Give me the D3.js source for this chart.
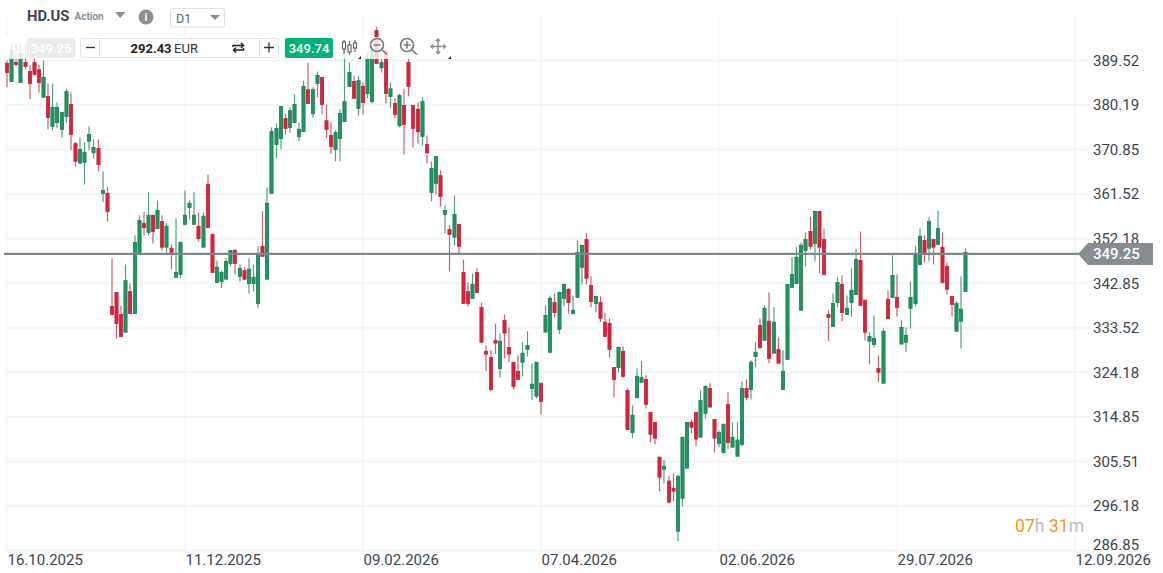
<!DOCTYPE html>
<html><head><meta charset="utf-8">
<script src="https://cdnjs.cloudflare.com/ajax/libs/d3/7.8.5/d3.min.js"></script>
<style>html,body{margin:0;padding:0;background:#fff;overflow:hidden}svg{display:block;font-family:Roboto,sans-serif}</style>
</head><body><svg id="c" width="1163" height="573"></svg>
<script>
const opens=[388.9,385.1,389.1,384.9,389.1,387.2,389.1,387.6,381.8,382.0,
375.7,376.5,375.1,377.8,380.3,372.1,368.0,368.2,372.6,370.2,
371.1,361.7,361.7,338.0,340.9,336.3,332.6,341.1,336.5,349.1,
355.4,353.5,357.1,354.3,355.8,350.4,350.2,344.1,344.7,355.2,
358.7,355.2,354.8,350.4,363.6,353.1,343.0,343.2,343.7,347.0,
349.7,344.3,345.5,342.8,342.8,338.6,350.6,343.7,361.7,371.9,
373.2,377.4,375.5,376.5,373.6,374.6,383.4,378.4,384.7,386.0,
376.9,373.8,370.9,373.2,376.7,384.1,385.1,379.5,384.1,382.6,
380.9,395.8,388.0,391.6,382.0,380.5,375.9,380.1,389.1,380.1,
379.3,373.6,371.9,361.9,363.8,365.4,357.3,354.1,352.5,355.2,
345.1,341.1,339.7,345.1,337.8,328.6,327.3,330.9,325.0,335.1,
329.4,326.3,324.4,326.3,329.0,320.8,319.2,321.9,332.6,328.4,
338.8,333.2,339.7,341.6,336.5,339.9,346.2,352.0,342.4,338.6,
338.8,334.7,334.4,325.2,325.2,328.6,320.4,311.6,318.9,322.1,
322.7,315.8,313.7,306.4,303.9,301.4,299.9,290.9,297.8,304.1,
313.7,315.8,310.6,315.6,320.8,314.3,309.3,307.4,317.5,308.5,
306.6,309.1,320.8,320.6,327.5,334.0,330.9,334.9,328.2,329.0,
320.6,326.9,342.0,342.8,337.2,349.7,353.7,351.2,357.9,352.0,
336.3,333.8,338.8,342.6,336.3,338.8,340.5,347.6,339.3,330.7,
330.0,325.0,321.9,339.5,339.9,339.9,330.1,330.5,337.6,338.6,
346.8,351.8,350.2,352.0,351.0,350.4,346.4,340.1,332.8,334.9,
341.1];
const highs=[389.5,393.1,393.1,393.1,393.1,388.5,392.7,388.5,389.5,384.7,
384.7,380.7,378.6,383.6,382.8,372.4,373.4,372.4,375.7,373.0,
373.0,366.3,363.1,348.1,340.9,338.2,346.8,342.8,352.9,357.1,
357.7,361.9,357.1,360.2,357.1,355.4,351.0,356.4,351.6,362.3,
360.2,361.9,357.7,357.7,365.6,353.1,347.6,345.5,348.1,349.7,
350.1,346.8,346.2,348.1,346.8,350.6,357.9,362.9,375.5,376.3,
379.9,378.4,379.7,382.4,376.5,385.3,389.1,383.9,387.2,386.0,
380.3,376.7,374.9,379.3,393.7,389.1,386.4,386.2,384.9,391.2,
392.7,396.6,391.2,391.6,384.9,381.6,382.6,383.6,389.9,380.1,
380.7,381.8,373.8,368.4,369.4,366.5,359.2,355.0,361.2,355.2,
347.8,343.0,344.9,346.0,338.8,329.8,328.8,334.4,332.3,336.3,
333.6,326.3,327.7,330.5,332.8,326.1,326.3,321.9,338.2,340.3,
340.7,341.1,342.8,341.8,340.3,351.8,350.8,353.3,344.3,340.1,
340.1,336.7,335.5,325.2,329.6,329.6,320.8,317.3,325.0,326.5,
323.6,315.8,313.7,306.6,305.8,302.4,303.0,302.8,310.6,313.7,
314.3,315.8,320.4,321.5,321.9,314.3,312.0,313.5,320.0,313.7,
313.7,322.3,322.7,326.7,330.5,335.5,338.2,340.9,337.8,331.5,
328.8,342.6,348.3,350.4,351.4,353.5,356.8,357.9,357.9,354.3,
337.2,340.7,344.1,344.5,340.3,346.0,350.1,353.7,339.3,332.6,
336.1,327.7,333.4,341.4,348.7,344.7,335.1,333.6,343.2,350.6,
354.3,352.9,356.6,352.2,358.1,353.5,347.2,340.1,339.1,344.3,
350.1];
const lows=[383.9,385.1,388.3,384.9,387.8,381.4,386.4,382.8,381.8,375.1,
374.9,375.3,373.4,376.5,370.7,367.3,368.0,363.5,370.7,369.0,
366.3,359.8,355.8,336.1,331.3,331.7,332.6,336.5,336.5,349.1,
352.9,352.9,351.2,354.3,349.7,349.3,345.8,344.1,343.9,355.0,
356.2,355.2,351.6,350.4,354.5,345.1,343.0,341.8,343.7,346.4,
344.7,343.2,343.5,340.7,341.1,337.6,348.5,343.7,361.7,369.0,
370.9,374.0,374.4,376.5,372.6,374.6,380.5,377.6,381.8,378.2,
373.2,370.0,368.4,368.4,376.7,383.9,381.6,378.0,378.2,381.6,
380.5,388.9,387.0,380.5,379.5,377.4,375.5,369.8,382.0,371.3,
372.1,371.7,368.0,360.0,361.5,358.9,353.3,345.3,350.8,349.1,
338.6,338.0,339.7,340.9,330.3,324.4,320.2,328.0,323.1,327.1,
326.3,320.6,322.7,323.3,327.5,318.5,318.7,315.4,332.6,328.2,
335.7,332.2,338.0,336.5,336.5,339.9,342.6,342.6,337.8,336.7,
334.7,331.7,327.3,318.9,324.2,323.1,312.2,310.4,318.7,322.1,
316.6,309.5,309.1,299.3,300.9,296.7,297.2,288.8,296.1,304.1,
311.4,308.7,310.6,314.5,316.9,307.4,308.5,307.2,308.1,308.5,
306.6,308.7,318.3,318.5,325.2,329.0,330.9,326.1,328.2,326.1,
320.6,326.9,342.0,342.8,337.2,346.4,349.9,347.4,344.9,344.5,
330.7,333.8,337.8,334.9,336.3,335.9,340.5,338.0,330.9,325.9,
329.4,322.1,321.9,335.3,339.9,335.9,330.1,328.4,333.4,338.0,
346.8,347.2,347.4,346.8,350.8,342.8,340.5,335.9,332.8,329.2,
341.1];
const closes=[387.0,391.6,388.7,391.0,388.3,384.7,386.6,384.9,386.0,377.6,
379.7,379.7,378.6,383.0,374.0,368.4,370.9,370.3,374.0,371.3,
367.7,362.3,357.9,336.3,334.4,331.7,343.4,336.5,351.4,356.0,
354.5,357.1,353.7,358.1,350.4,354.8,349.3,345.1,351.4,357.1,
359.6,357.1,352.2,356.9,354.5,345.1,346.2,345.1,347.4,349.7,
347.0,346.0,343.7,345.8,344.1,349.1,348.5,359.6,374.6,375.3,
379.9,375.3,379.0,380.3,375.1,384.1,380.5,383.4,386.4,380.3,
375.1,371.5,374.4,378.4,380.9,387.0,381.6,385.3,380.7,389.9,
391.6,388.9,389.1,382.6,383.6,378.2,382.2,376.1,384.1,375.3,
374.6,380.9,370.2,366.9,369.4,361.0,358.1,353.1,357.3,350.6,
338.6,338.6,342.6,340.9,330.5,328.0,320.6,330.3,330.7,332.4,
328.0,321.2,322.7,328.2,329.8,321.7,326.3,318.1,336.1,339.7,
336.7,340.9,342.6,338.8,337.2,349.3,350.8,343.9,339.0,340.1,
335.5,331.7,329.0,322.7,329.4,323.3,312.2,315.2,323.3,323.1,
317.5,311.2,310.4,302.2,304.5,297.0,299.3,302.4,310.6,313.7,
312.7,310.2,318.3,321.2,316.9,310.4,311.6,313.3,309.5,310.6,
310.0,320.8,318.9,326.3,328.4,329.4,337.6,327.1,334.7,326.1,
324.4,342.6,344.7,348.3,350.8,352.0,350.6,357.9,350.4,344.7,
335.7,338.6,343.0,336.7,337.6,341.4,347.8,338.2,332.6,331.7,
331.3,324.2,332.8,335.5,344.5,337.8,333.6,331.9,339.9,348.7,
352.7,349.1,355.8,350.4,354.3,343.0,341.6,338.4,338.6,337.4,
349.3];
const priceTicks=[389.52,380.19,370.85,361.52,352.18,342.85,333.52,324.18,314.85,305.51,296.18,286.85];
const dateLabels=["16.10.2025","11.12.2025","09.02.2026","07.04.2026","02.06.2026","29.07.2026","12.09.2026"];
const dateIndex=[0,39,78,117,156,195,234];
const lastPrice=349.25, askPrice=349.74, tradeValue="292.43";

const svg=d3.select("#c");
const x=d3.scaleLinear().domain([0,234]).range([7,1075]);
const y=d3.scaleLinear().domain([389.52,296.18]).range([60.5,506]);
const GREEN="#20955f",GREEND="#1b7f56",RED="#dc2039",REDD="#c12a3e",TXT="#3a4550";

// grid
const grid=svg.append("g");
grid.selectAll("line.h").data(priceTicks).join("line").attr("class","h")
 .attr("x1",5).attr("x2",1090).attr("y1",d=>y(d)).attr("y2",d=>y(d))
 .attr("stroke","#f3f4f6").attr("stroke-width",2);
grid.selectAll("line.v").data(dateIndex).join("line").attr("class","v")
 .attr("x1",d=>x(d)).attr("x2",d=>x(d)).attr("y1",15).attr("y2",552)
 .attr("stroke","#f3f4f6").attr("stroke-width",1.5);

// candles
const idx=d3.range(opens.length);
const g=svg.append("g");
const isUp=i=>closes[i]>=opens[i];
const cx=i=>Math.round(x(i)*2)/2;
g.selectAll("line.w").data(idx).join("line").attr("class","w")
 .attr("x1",cx).attr("x2",cx).attr("y1",i=>y(highs[i])).attr("y2",i=>y(lows[i]))
 .attr("stroke",i=>isUp(i)?GREEND:REDD).attr("stroke-width",1.2).attr("stroke-opacity",.75);
g.selectAll("rect.b").data(idx).join("rect").attr("class","b")
 .attr("x",i=>cx(i)-1.6).attr("width",3.2)
 .attr("y",i=>y(Math.max(opens[i],closes[i])))
 .attr("height",i=>Math.max(1,Math.abs(y(opens[i])-y(closes[i]))))
 .attr("fill",i=>isUp(i)?GREEN:RED)
 .attr("stroke",i=>isUp(i)?GREEND:REDD).attr("stroke-width",.8);

// toolbar veil
svg.append("rect").attr("x",0).attr("y",37).attr("width",452).attr("height",22).attr("fill","#fff").attr("opacity",.82);

// price line + tag
const ly=y(lastPrice)+1.2;
svg.append("line").attr("x1",4).attr("x2",1080).attr("y1",ly).attr("y2",ly).attr("stroke","#7f898d").attr("stroke-width",2.4);

// axes
const yAxis=d3.axisRight(y).tickValues(priceTicks).tickFormat(d3.format(".2f")).tickSize(0).tickPadding(0);
const ya=svg.append("g").attr("transform","translate(1093,0)").call(yAxis);
ya.select(".domain").remove();
ya.selectAll("text").attr("fill",TXT).style("font-size","15px").style("font-family","Roboto");
ya.selectAll(".tick").filter(d=>d===286.85).select("text").attr("dy","-0.1em");
const xAxis=d3.axisBottom(x).tickValues(dateIndex).tickFormat((d,i)=>dateLabels[i]).tickSize(0).tickPadding(0);
const xa=svg.append("g").attr("transform","translate(0,554)").call(xAxis);
xa.select(".domain").remove();
xa.selectAll("text").attr("fill",TXT).attr("text-anchor","start").style("font-size","15px").style("font-family","Roboto");

svg.append("path").attr("fill","#868e92").attr("d",`M1078 ${ly} L1088 243 H1153 V265 H1088 Z`);
svg.append("text").attr("x",1093).attr("y",ly+5).attr("fill","#fff").attr("font-size",15).attr("font-weight",500).text(d3.format(".2f")(lastPrice));

// timer
const t=svg.append("text").attr("x",1015).attr("y",532).attr("font-size",17.6);
[["07","#f7941d"],["h","#bdbdbd"],[" 31","#f7941d"],["m","#bdbdbd"]].forEach(a=>t.append("tspan").attr("fill",a[1]).attr("xml:space","preserve").style("white-space","pre").text(a[0]));

// header
svg.append("text").attr("x",27).attr("y",21).attr("font-size",14.8).attr("font-weight",700).attr("fill","#3c4854").text("HD.US");
svg.append("text").attr("x",74.5).attr("y",20).attr("font-size",10).attr("font-weight",700).attr("fill","#8a9096").text("Action");
svg.append("path").attr("d","M115 12 H125.5 L120.2 18 Z").attr("fill","#8a8f94");
svg.append("circle").attr("cx",146).attr("cy",17).attr("r",7.5).attr("fill","#8f8f8f");
svg.append("text").attr("x",146).attr("y",21).attr("text-anchor","middle").attr("font-size",11).attr("font-weight",700).attr("fill","#fff").text("i");
svg.append("rect").attr("x",170.5).attr("y",8.5).attr("width",54).attr("height",18.5).attr("rx",2).attr("fill","#fff").attr("stroke","#dfe1e3");
svg.append("text").attr("x",176).attr("y",23).attr("font-size",12.5).attr("fill","#59636c").text("D1");
svg.append("path").attr("d","M210 15 H220 L215 20 Z").attr("fill","#8a8f94");

// order row
svg.append("rect").attr("x",27).attr("y",38).attr("width",48).attr("height",20).attr("rx",2).attr("fill","#ececec");
svg.append("text").attr("x",51).attr("y",53).attr("text-anchor","middle").attr("font-size",13).attr("font-weight",500).attr("fill","#fff").text("349.25");
svg.append("rect").attr("x",80.5).attr("y",38.5).attr("width",198).attr("height",19).attr("rx",2).attr("fill","#fff").attr("stroke","#e3e5e7");
svg.append("path").attr("d","M99.5 39V57M259.5 39V57").attr("stroke","#e3e5e7");
svg.append("path").attr("d","M86 47.5H95").attr("stroke","#333").attr("stroke-width",1.3);
svg.append("path").attr("d","M264 47.5H274M269 42.5V52.5").attr("stroke","#333").attr("stroke-width",1.3);
const ord=svg.append("text").attr("x",130.5).attr("y",53).attr("font-size",13).attr("fill","#222");
ord.append("tspan").attr("font-weight",700).text(tradeValue);
ord.append("tspan").attr("dx",2.5).attr("fill","#333").text("EUR");
svg.append("path").attr("fill","none").attr("stroke","#222").attr("stroke-width",1.5)
 .attr("d","M233 47V45.5H243M241 43L243.5 45.5L241 48M243.5 48V50H234M236 47.5L233.5 50L236 52.5");
svg.append("rect").attr("x",285).attr("y",38).attr("width",48).attr("height",20).attr("rx",2).attr("fill","#03b27a");
svg.append("text").attr("x",309).attr("y",53).attr("text-anchor","middle").attr("font-size",13).attr("font-weight",500).attr("fill","#fff").text(d3.format(".2f")(askPrice));

// tool icons
const ic=svg.append("g").attr("fill","none").attr("stroke","#666").attr("stroke-width",1.2);
ic.append("path").attr("d","M344 40V54M349.5 41V55M355 40V52");
ic.append("rect").attr("x",342.5).attr("y",42).attr("width",3).attr("height",7).attr("fill","#fff");
ic.append("rect").attr("x",348).attr("y",45).attr("width",3).attr("height",7).attr("fill","#fff");
ic.append("rect").attr("x",353.5).attr("y",43).attr("width",3).attr("height",5).attr("fill","#fff");
const ic2=svg.append("g").attr("fill","none").attr("stroke","#777").attr("stroke-width",1.6);
ic2.append("circle").attr("cx",377).attr("cy",45).attr("r",6.5);
ic2.append("path").attr("d","M373.5 45H380.5M382 50L387 54.5");
ic2.append("circle").attr("cx",407).attr("cy",45).attr("r",6.5);
ic2.append("path").attr("d","M403.5 45H410.5M407 41.5V48.5M412 50L417 54.5");
const ic3=svg.append("g").attr("fill","none").attr("stroke","#8a8a8a").attr("stroke-width",1.4);
ic3.append("path").attr("d","M438 39V53.5M431 46.5H445.5M436 41L438 39L440 41M436 51.5L438 53.5L440 51.5M433 44.5L431 46.5L433 48.5M443.5 44.5L445.5 46.5L443.5 48.5");
svg.append("path").attr("d","M361 56V59H358ZM451 56V59H448Z").attr("fill","#222");
</script></body></html>
